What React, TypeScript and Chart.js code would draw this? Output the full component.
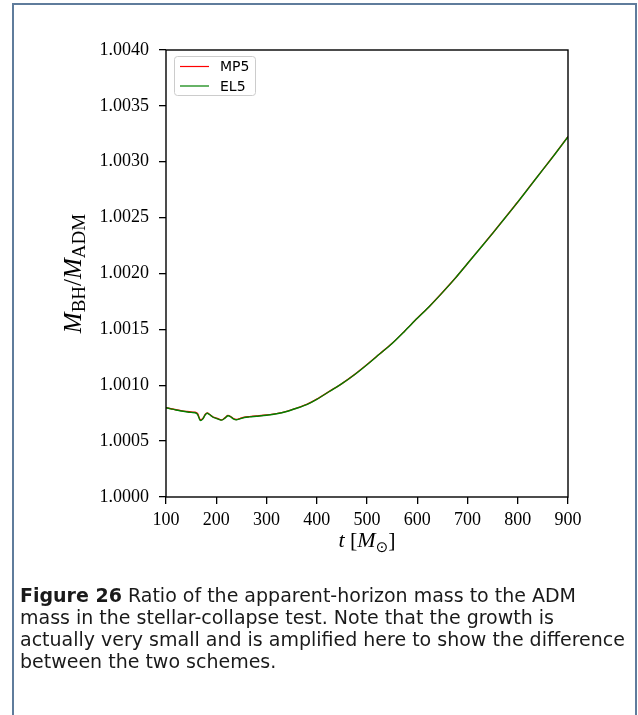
import React, { useEffect, useRef } from "react";
import { Chart, registerables } from "chart.js";

Chart.register(...registerables);

// ---- data ----
const tValues = [100, 110, 120, 130, 140, 150, 158, 163, 168, 173, 178, 182, 187, 193, 199, 205, 211, 217, 223, 228, 234, 240, 247, 256, 266, 280, 300, 320, 340, 360, 380, 400, 425, 450, 475, 500, 525, 550, 575, 600, 625, 650, 675, 700, 725, 750, 775, 800, 825, 850, 875, 900];
const mp5Values = [1.0008, 1.00079, 1.000781, 1.000773, 1.000766, 1.00076, 1.000758, 1.000745, 1.000692, 1.0007, 1.000738, 1.000752, 1.000738, 1.000718, 1.000708, 1.000698, 1.00069, 1.000708, 1.00073, 1.000722, 1.000702, 1.000694, 1.000702, 1.000714, 1.000719, 1.000725, 1.000734, 1.000746, 1.000766, 1.000795, 1.000828, 1.000875, 1.000945, 1.001015, 1.001095, 1.001185, 1.00128, 1.001375, 1.001485, 1.0016, 1.00171, 1.00183, 1.001955, 1.00209, 1.002225, 1.00236, 1.0025, 1.00264, 1.002785, 1.00293, 1.003075, 1.003225];
const el5Values = [1.000799, 1.000789, 1.000779, 1.00077, 1.000763, 1.000757, 1.000754, 1.000738, 1.000686, 1.000697, 1.000735, 1.00075, 1.000736, 1.000716, 1.000705, 1.000695, 1.000688, 1.000705, 1.000727, 1.00072, 1.0007, 1.000691, 1.000699, 1.000711, 1.000717, 1.000723, 1.000732, 1.000745, 1.000765, 1.000794, 1.000827, 1.000874, 1.000944, 1.001014, 1.001094, 1.001184, 1.001279, 1.001374, 1.001484, 1.001599, 1.001709, 1.001829, 1.001954, 1.002089, 1.002224, 1.002359, 1.002499, 1.002639, 1.002784, 1.002929, 1.003074, 1.003224];
const seriesNames = ["MP5", "EL5"];
const seriesColors = ["#ff0000", "#008000"];
const xTicks = [100, 200, 300, 400, 500, 600, 700, 800, 900];
const xTickLabels = ["100", "200", "300", "400", "500", "600", "700", "800", "900"];
const yTicks = [1.0, 1.0005, 1.001, 1.0015, 1.002, 1.0025, 1.003, 1.0035, 1.004];
const yTickLabels = ["1.0000", "1.0005", "1.0010", "1.0015", "1.0020", "1.0025", "1.0030", "1.0035", "1.0040"];
const captionBold = "Figure 26";
const captionLines = [
  " Ratio of the apparent-horizon mass to the ADM",
  "mass in the stellar-collapse test. Note that the growth is",
  "actually very small and is amplified here to show the difference",
  "between the two schemes.",
];

const W = 638;
const H = 715;
const PLOT = { left: 166, right: 568, top: 50, bottom: 497 };
const X_AXIS_H = 40;

const serif = "'Liberation Serif', 'DejaVu Serif', serif";
const sans = "'DejaVu Sans', sans-serif";

function drawSubText(ctx: CanvasRenderingContext2D, parts: { t: string; f: string; dy?: number }[], x: number, y: number) {
  let total = 0;
  for (const p of parts) {
    ctx.font = p.f;
    total += ctx.measureText(p.t).width;
  }
  let cx = x - total / 2;
  for (const p of parts) {
    ctx.font = p.f;
    ctx.fillText(p.t, cx, y + (p.dy || 0));
    cx += ctx.measureText(p.t).width;
  }
}

const decorPlugin = {
  id: "decor",
  afterDraw(chart: any) {
    const ctx: CanvasRenderingContext2D = chart.ctx;
    const a = chart.chartArea;
    ctx.save();
    // spines
    ctx.strokeStyle = "#000";
    ctx.lineWidth = 1.4;
    ctx.strokeRect(a.left, a.top, a.right - a.left, a.bottom - a.top);

    // legend
    const lx = a.left + 8, ly = a.top + 6, lw = 81, lh = 39;
    ctx.beginPath();
    ctx.roundRect(lx + 0.5, ly + 0.5, lw, lh, 3);
    ctx.fillStyle = "rgba(255,255,255,0.8)";
    ctx.fill();
    ctx.strokeStyle = "#cccccc";
    ctx.lineWidth = 1;
    ctx.stroke();
    ctx.font = "14px " + sans;
    ctx.textBaseline = "middle";
    ctx.textAlign = "left";
    seriesNames.forEach((name, i) => {
      const yy = ly + 10.5 + i * 19.5;
      ctx.strokeStyle = seriesColors[i];
      ctx.lineWidth = 1.2;
      ctx.beginPath();
      ctx.moveTo(lx + 6, yy);
      ctx.lineTo(lx + 35, yy);
      ctx.stroke();
      ctx.fillStyle = "#000";
      ctx.fillText(name, lx + 46, yy + 1);
    });

    // x title
    ctx.fillStyle = "#000";
    ctx.textBaseline = "alphabetic";
    ctx.textAlign = "left";
    drawSubText(ctx, [
      { t: "t", f: "italic 22px " + serif },
      { t: " [", f: "22px " + serif },
      { t: "M", f: "italic 22px " + serif },
      { t: "\u2299", f: "15px 'DejaVu Sans'", dy: 5 },
      { t: "]", f: "22px " + serif },
    ], (a.left + a.right) / 2, 547);

    // y title
    ctx.save();
    ctx.translate(73, (a.top + a.bottom) / 2);
    ctx.rotate(-Math.PI / 2);
    drawSubText(ctx, [
      { t: "M", f: "italic 25px " + serif },
      { t: "BH", f: "19px " + serif, dy: 4 },
      { t: "/", f: "25px " + serif },
      { t: "M", f: "italic 25px " + serif },
      { t: "ADM", f: "19px " + serif, dy: 4 },
    ], 0, 8);
    ctx.restore();
    ctx.restore();
  },
};

function ChartView() {
  const ref = useRef<HTMLCanvasElement | null>(null);
  useEffect(() => {
    if (!ref.current) return;
    const mk = (vals: number[]) => tValues.map((t, i) => ({ x: t, y: vals[i] }));
    const chart = new Chart(ref.current, {
      type: "line",
      data: {
        datasets: [
          { label: seriesNames[0], data: mk(mp5Values), borderColor: seriesColors[0], borderWidth: 1.4, pointRadius: 0, tension: 0.3, fill: false, order: 1 },
          { label: seriesNames[1], data: mk(el5Values), borderColor: seriesColors[1], borderWidth: 1.4, pointRadius: 0, tension: 0.3, fill: false, order: 0 },
        ],
      },
      options: {
        responsive: false,
        animation: false,
        devicePixelRatio: 1,
        layout: { padding: { left: 0, top: PLOT.top, right: W - PLOT.right, bottom: H - PLOT.bottom - X_AXIS_H } },
        plugins: { legend: { display: false }, tooltip: { enabled: false } },
        scales: {
          x: {
            type: "linear",
            min: 100,
            max: 900,
            afterBuildTicks: (s: any) => { s.ticks = xTicks.map((v) => ({ value: v })); },
            afterFit: (s: any) => { s.height = X_AXIS_H; },
            ticks: { callback: (_v: any, i: number) => xTickLabels[i], color: "#000", font: { family: serif, size: 18 }, padding: 5, maxRotation: 0, autoSkip: false },
            grid: { drawOnChartArea: false, drawTicks: true, tickLength: 7, color: "#000", lineWidth: 1.3 },
            border: { display: false },
          },
          y: {
            type: "linear",
            min: 1.0,
            max: 1.004,
            afterBuildTicks: (s: any) => { s.ticks = yTicks.map((v) => ({ value: v })); },
            afterFit: (s: any) => { s.width = PLOT.left; },
            ticks: { callback: (_v: any, i: number) => yTickLabels[i], color: "#000", font: { family: serif, size: 18 }, padding: 10, autoSkip: false },
            grid: { drawOnChartArea: false, drawTicks: true, tickLength: 7, color: "#000", lineWidth: 1.3 },
            border: { display: false },
          },
        },
      },
      plugins: [decorPlugin],
    });
    return () => chart.destroy();
  }, []);
  return <canvas ref={ref} width={W} height={H} style={{ position: "absolute", left: 0, top: 0, width: W, height: H }} />;
}

export default function App() {
  return (
    <div style={{ position: "fixed", left: 0, top: 0, width: W, height: H, background: "#fff", overflow: "hidden" }}>
      <div style={{ position: "absolute", left: 12, top: 3, width: 625, height: 720, borderLeft: "2px solid #5f7c9c", borderTop: "2px solid #5f7c9c", borderRight: "2px solid #5f7c9c", boxSizing: "border-box" }} />
      <ChartView />
      <div style={{ position: "absolute", left: 20, top: 584, width: 615, fontFamily: "'DejaVu Sans', sans-serif", fontSize: 19, lineHeight: "22px", color: "#1a1a1a", whiteSpace: "nowrap" }}>
        {captionLines.map((line, i) => (
          <div key={i}>
            {i === 0 ? <b>{captionBold}</b> : null}
            {line}
          </div>
        ))}
      </div>
    </div>
  );
}
